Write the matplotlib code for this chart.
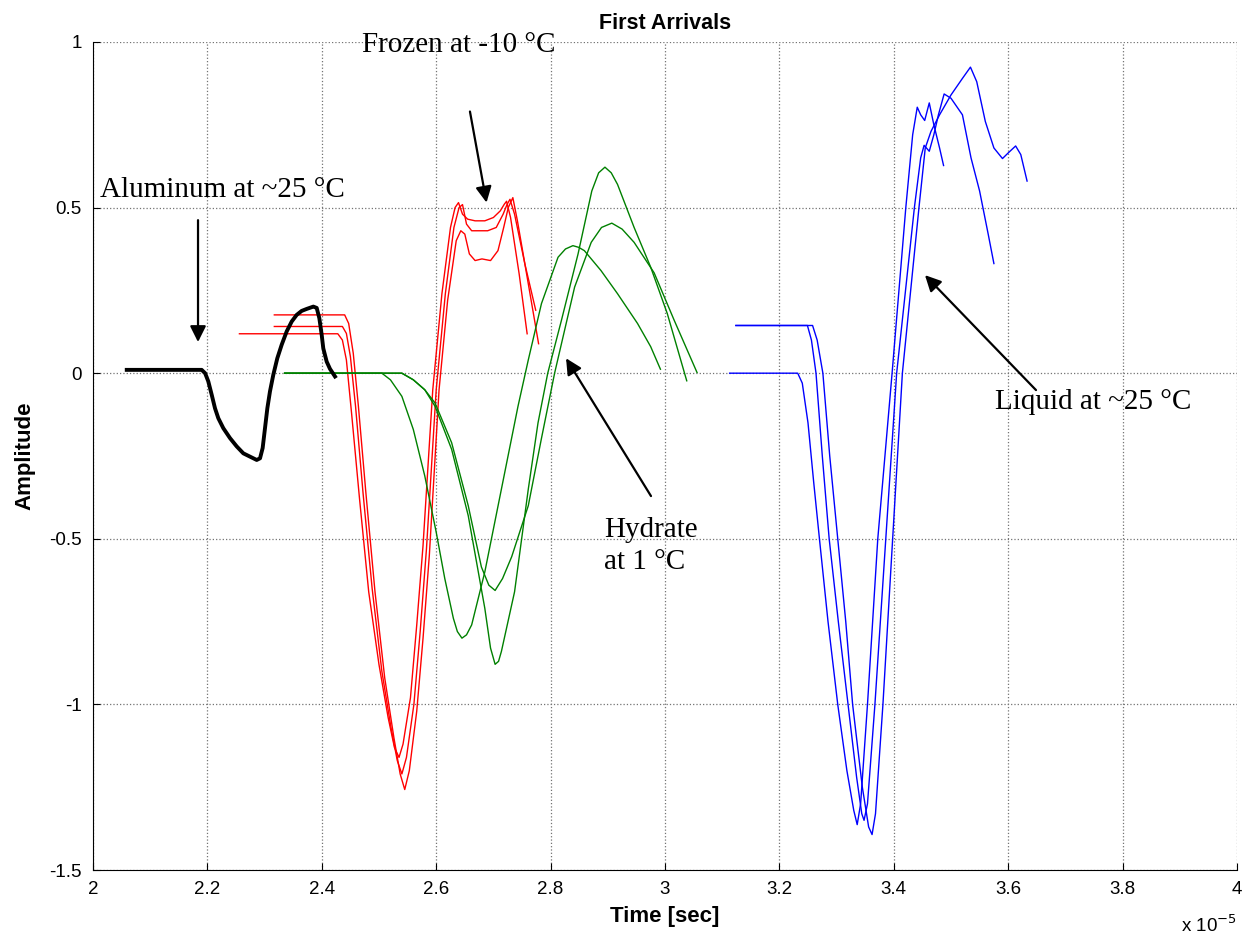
import matplotlib
matplotlib.use("Agg")
import matplotlib.pyplot as plt

# time in units of 1e-5 s, amplitude
alum_t = [2.059, 2.190, 2.196, 2.2016, 2.2075, 2.2133, 2.2191, 2.2278, 2.2395, 2.2512, 2.2628,
          2.2745, 2.2862, 2.2920, 2.2966, 2.3007, 2.3048, 2.3094, 2.3152, 2.3222, 2.3299, 2.3386,
          2.3474, 2.3561, 2.3648, 2.3736, 2.3852, 2.3911, 2.3957, 2.3998, 2.4026, 2.4085, 2.4143,
          2.4231]
alum_a = [0.010, 0.010, 0.0, -0.025, -0.065, -0.106, -0.136, -0.166, -0.196, -0.221, -0.242,
          -0.252, -0.262, -0.257, -0.226, -0.166, -0.106, -0.055, -0.005, 0.045, 0.086, 0.126,
          0.156, 0.176, 0.188, 0.194, 0.201, 0.197, 0.166, 0.116, 0.075, 0.035, 0.013,
          -0.010]

frozen1_t = [2.256, 2.428, 2.436, 2.443, 2.452, 2.466, 2.482, 2.500, 2.516, 2.527, 2.535, 2.542,
             2.555, 2.566, 2.577, 2.594, 2.610, 2.625, 2.633, 2.639, 2.646, 2.655, 2.668, 2.685,
             2.700, 2.712, 2.719, 2.723, 2.730, 2.745, 2.759]
frozen1_a = [0.119, 0.119, 0.10, 0.04, -0.12, -0.38, -0.66, -0.88, -1.04, -1.13, -1.16, -1.12,
             -0.98, -0.76, -0.52, -0.05, 0.24, 0.44, 0.50, 0.515, 0.48, 0.465, 0.46, 0.46,
             0.47, 0.49, 0.51, 0.519, 0.47, 0.30, 0.119]
frozen2_t = [2.317, 2.436, 2.443, 2.450, 2.459, 2.472, 2.488, 2.505, 2.521, 2.532, 2.540, 2.548,
             2.561, 2.572, 2.583, 2.600, 2.616, 2.631, 2.640, 2.646, 2.653, 2.662, 2.675, 2.690,
             2.705, 2.717, 2.724, 2.729, 2.737, 2.755, 2.774]
frozen2_a = [0.141, 0.141, 0.12, 0.05, -0.10, -0.36, -0.65, -0.90, -1.07, -1.17, -1.21, -1.16,
             -1.0, -0.78, -0.53, -0.05, 0.24, 0.44, 0.50, 0.509, 0.45, 0.43, 0.43, 0.43,
             0.44, 0.48, 0.51, 0.525, 0.48, 0.33, 0.19]
frozen3_t = [2.317, 2.440, 2.447, 2.455, 2.464, 2.477, 2.493, 2.510, 2.526, 2.537, 2.545, 2.553,
             2.566, 2.577, 2.588, 2.605, 2.620, 2.635, 2.643, 2.650, 2.658, 2.668, 2.680, 2.695,
             2.708, 2.718, 2.726, 2.734, 2.742, 2.760, 2.779]
frozen3_a = [0.176, 0.176, 0.15, 0.06, -0.10, -0.36, -0.66, -0.92, -1.10, -1.21, -1.257, -1.20,
             -1.02, -0.80, -0.55, -0.05, 0.22, 0.40, 0.43, 0.42, 0.36, 0.34, 0.345, 0.34,
             0.37, 0.44, 0.50, 0.53, 0.46, 0.28, 0.089]

hyd1_t = [2.335, 2.505, 2.520, 2.540, 2.560, 2.580, 2.600, 2.615, 2.630, 2.637, 2.645, 2.653,
          2.662, 2.685, 2.714, 2.743, 2.761, 2.784, 2.813, 2.826, 2.839, 2.849, 2.859, 2.888,
          2.917, 2.952, 2.975, 2.992]
hyd1_a = [0.0, 0.0, -0.02, -0.07, -0.17, -0.31, -0.48, -0.62, -0.74, -0.78, -0.80, -0.79,
          -0.76, -0.60, -0.35, -0.10, 0.04, 0.21, 0.35, 0.375, 0.385, 0.38, 0.37, 0.31,
          0.24, 0.15, 0.08, 0.012]
hyd2_t = [2.335, 2.540, 2.560, 2.580, 2.598, 2.627, 2.656, 2.679, 2.692, 2.703, 2.716, 2.732,
          2.761, 2.784, 2.807, 2.842, 2.871, 2.889, 2.907, 2.925, 2.946, 2.981, 3.016, 3.056]
hyd2_a = [0.0, 0.0, -0.02, -0.05, -0.09, -0.21, -0.40, -0.585, -0.64, -0.656, -0.62, -0.554,
          -0.40, -0.197, 0.0, 0.26, 0.395, 0.44, 0.453, 0.435, 0.395, 0.303, 0.16, 0.002]
hyd3_t = [2.335, 2.540, 2.560, 2.580, 2.598, 2.627, 2.656, 2.685, 2.695, 2.703, 2.709, 2.714,
          2.737, 2.761, 2.778, 2.795, 2.819, 2.848, 2.872, 2.884, 2.895, 2.906, 2.917, 2.946,
          2.975, 3.004, 3.038]
hyd3_a = [0.0, 0.0, -0.02, -0.05, -0.10, -0.23, -0.43, -0.71, -0.83, -0.879, -0.87, -0.84,
          -0.66, -0.35, -0.15, 0.0, 0.16, 0.36, 0.55, 0.605, 0.622, 0.605, 0.57, 0.44,
          0.32, 0.18, -0.023]

liq1_t = [3.113, 3.232, 3.240, 3.250, 3.260, 3.270, 3.285, 3.302, 3.318, 3.330, 3.336, 3.342,
          3.354, 3.372, 3.397, 3.421, 3.433, 3.441, 3.447, 3.454, 3.462, 3.470, 3.480, 3.487]
liq1_a = [0.0, 0.0, -0.03, -0.15, -0.33, -0.50, -0.75, -1.0, -1.20, -1.32, -1.363, -1.30,
          -1.0, -0.5, 0.0, 0.5, 0.72, 0.803, 0.78, 0.763, 0.816, 0.75, 0.68, 0.627]
liq2_t = [3.124, 3.249, 3.256, 3.264, 3.275, 3.287, 3.303, 3.320, 3.335, 3.344, 3.348, 3.354,
          3.367, 3.386, 3.405, 3.436, 3.447, 3.453, 3.462, 3.470, 3.478, 3.488, 3.500, 3.520,
          3.535, 3.550, 3.565, 3.575]
liq2_a = [0.144, 0.144, 0.10, 0.0, -0.25, -0.50, -0.75, -1.0, -1.22, -1.33, -1.35, -1.30,
          -1.0, -0.5, 0.0, 0.5, 0.65, 0.688, 0.67, 0.72, 0.78, 0.843, 0.83, 0.78,
          0.65, 0.55, 0.42, 0.331]
liq3_t = [3.124, 3.258, 3.266, 3.276, 3.288, 3.302, 3.316, 3.328, 3.345, 3.356, 3.362, 3.368,
          3.381, 3.398, 3.415, 3.444, 3.455, 3.465, 3.480, 3.500, 3.520, 3.534, 3.545, 3.560,
          3.575, 3.590, 3.600, 3.613, 3.622, 3.633]
liq3_a = [0.144, 0.144, 0.10, 0.0, -0.25, -0.50, -0.75, -1.0, -1.25, -1.37, -1.393, -1.33,
          -1.0, -0.5, 0.0, 0.5, 0.68, 0.73, 0.78, 0.84, 0.89, 0.924, 0.88, 0.76,
          0.68, 0.648, 0.665, 0.686, 0.66, 0.58]

xticks = [2, 2.2, 2.4, 2.6, 2.8, 3, 3.2, 3.4, 3.6, 3.8, 4]
xticklabels = ['2', '2.2', '2.4', '2.6', '2.8', '3', '3.2', '3.4', '3.6', '3.8', '4']
yticks = [-1.5, -1, -0.5, 0, 0.5, 1]
yticklabels = ['-1.5', '-1', '-0.5', '0', '0.5', '1']

plt.rcParams['font.family'] = ['Liberation Sans', 'DejaVu Sans']

fig = plt.figure(figsize=(12.5, 9.43), dpi=100)
ax = fig.add_axes([0.0744, 0.0774, 0.9152, 0.8781])

ax.plot(alum_t, alum_a, color='k', lw=2.8, zorder=3, solid_joinstyle='round')
for t, a in [(frozen1_t, frozen1_a), (frozen2_t, frozen2_a), (frozen3_t, frozen3_a)]:
    ax.plot(t, a, color='#ff0000', lw=1.0)
for t, a in [(hyd1_t, hyd1_a), (hyd2_t, hyd2_a), (hyd3_t, hyd3_a)]:
    ax.plot(t, a, color='#008000', lw=1.0)
for t, a in [(liq1_t, liq1_a), (liq2_t, liq2_a), (liq3_t, liq3_a)]:
    ax.plot(t, a, color='#0000ff', lw=1.0)

ax.set_xlim(2, 4)
ax.set_ylim(-1.5, 1)
ax.set_xticks(xticks)
ax.set_xticklabels(xticklabels)
ax.set_yticks(yticks)
ax.set_yticklabels(yticklabels)
ax.tick_params(direction='in', length=5, labelsize=13.5, pad=8)
ax.grid(True, color='0.45', linestyle=':', lw=0.9)
ax.spines['top'].set_visible(False)
ax.spines['right'].set_visible(False)

ax.set_title('First Arrivals', fontsize=15.5, fontweight='bold', pad=9)
ax.set_xlabel('Time [sec]', fontsize=16, fontweight='bold', labelpad=6)
ax.set_ylabel('Amplitude', fontsize=16, fontweight='bold', labelpad=10)
fig.text(0.945, 0.012, r'x 10$^{-5}$', fontsize=13.5)

serif = dict(fontsize=21, family='Liberation Serif')
arrow = dict(arrowstyle='-|>', color='k', lw=1.6, mutation_scale=24, shrinkA=0, shrinkB=0)
ax.annotate('', xy=(2.1836, 0.094), xytext=(2.1836, 0.462), arrowprops=arrow)
ax.text(2.012, 0.553, 'Aluminum at ~25 °C', va='center', **serif)
ax.annotate('', xy=(2.688, 0.515), xytext=(2.659, 0.79), arrowprops=arrow)
ax.text(2.470, 0.99, 'Frozen at -10 °C', va='center', **serif)
ax.annotate('', xy=(2.827, 0.045), xytext=(2.9755, -0.371), arrowprops=arrow)
ax.text(2.893, -0.522, 'Hydrate\nat 1 °C', va='center', linespacing=1.3, **serif)
ax.annotate('', xy=(3.4545, 0.296), xytext=(3.6486, -0.051), arrowprops=arrow)
ax.text(3.577, -0.088, 'Liquid at ~25 °C', va='center', **serif)

fig.savefig('out.png', dpi=100)
